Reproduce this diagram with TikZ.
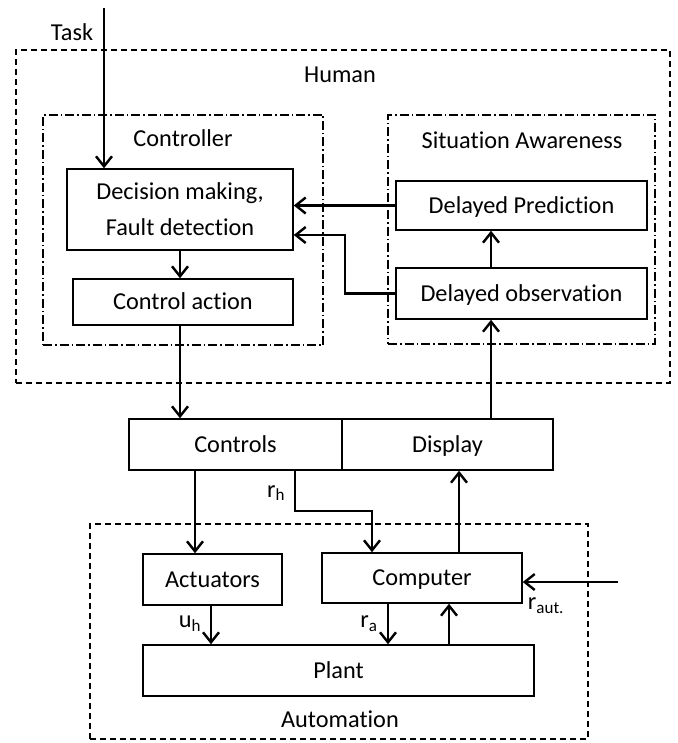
\documentclass[tikz,border=0pt]{standalone}
\usepackage{fontspec}
\setmainfont{Carlito}[Ligatures=NoCommon]
\usetikzlibrary{arrows.meta}
\begin{document}
\begin{tikzpicture}[x=1pt,y=-1pt,
  every node/.style={font=\fontsize{24.3}{36}\selectfont, inner sep=0pt},
  box/.style={draw, line width=1.6pt, align=center},
  one/.style={text height=17pt, text depth=1.5pt},
  outerdash/.style={draw, line width=1.5pt, dash pattern=on 6pt off 4pt},
  dashdot/.style={draw, line width=1.3pt, dash pattern=on 9pt off 3pt on 1.5pt off 3pt},
  arr/.style={line width=2.4pt, -{Straight Barb[length=10pt,width=16pt,line width=2.4pt]}},
  lbl/.style={font=\fontsize{24.3}{28}\selectfont},
  sub/.style={font=\fontsize{24.3}{28}\selectfont}]
\useasboundingbox (0,0) rectangle (677,743);
% containers
\node[outerdash, minimum width=654pt, minimum height=333pt] (human) at (343,216.5) {};
\node[dashdot, minimum width=280pt, minimum height=230pt] (ctrlr) at (183,230) {};
\node[dashdot, minimum width=267pt, minimum height=229pt] (sa) at (521.5,229.5) {};
\node[outerdash, minimum width=498pt, minimum height=215pt] (auto) at (339,631.5) {};
\node[lbl] (humanlbl) at (340,75) {Human};
\node[lbl] (ctrllbl) at (183,138) {Controller};
\node[lbl] (salbl) at (522,140) {Situation Awareness};
\node[lbl] (autolbl) at (340,719) {Automation};
\node[lbl] (tasklbl) at (72,32) {Task};
% boxes
\node[box, minimum width=226pt, minimum height=81pt] (dec) at (180,209.5) {Decision making,\\Fault detection};
\node[box, one, minimum width=220pt, minimum height=46pt] (ca) at (183,302) {Control action};
\node[box, one, minimum width=251pt, minimum height=49pt] (pred) at (521.5,205.5) {Delayed Prediction};
\node[box, one, minimum width=251pt, minimum height=51pt] (obs) at (521.5,293.5) {Delayed observation};
\node[box, one, minimum width=213pt, minimum height=51pt] (controls) at (235.5,444.5) {Controls};
\node[box, one, minimum width=211pt, minimum height=51pt] (display) at (447.5,444.5) {Display};
\node[box, one, minimum width=139pt, minimum height=51pt] (act) at (212.5,579.5) {Actuators};
\node[box, one, minimum width=200pt, minimum height=50pt] (comp) at (422,578) {Computer};
\node[box, one, minimum width=391pt, minimum height=51pt] (plant) at (338.5,670.5) {Plant};
% coordinates
\coordinate (taskin) at (104,8);
\coordinate (rautin) at (618,582);
\coordinate (ctlx) at (180,0);
\coordinate (obsx) at (491,0);
\coordinate (actx) at (195,0);
\coordinate (rhx) at (295,0);
\coordinate (rhy) at (0,511);
\coordinate (compx) at (372,0);
\coordinate (dispx) at (459,0);
\coordinate (uhx) at (211,0);
\coordinate (rax) at (388,0);
\coordinate (fbx) at (449,0);
\coordinate (bendx) at (345,0);
\coordinate (obsy) at (0,235);
% connectors
\draw[arr] (taskin) -- (taskin |- dec.north);
\draw[arr] (dec.south -| ctlx) -- (ca.north -| ctlx);
\draw[arr] (pred.west) -- (pred.west -| dec.east);
\draw[arr] (obs.west) -- (obs.west -| bendx) -- (bendx |- obsy) -- (obsy -| dec.east);
\draw[arr] (obs.north -| obsx) -- (pred.south -| obsx);
\draw[arr] (display.north -| obsx) -- (obs.south -| obsx);
\draw[arr] (ca.south -| ctlx) -- (controls.north -| ctlx);
\draw[arr] (controls.south -| actx) -- (act.north -| actx);
\draw[arr] (controls.south -| rhx) -- (rhx |- rhy) -- (compx |- rhy) -- (comp.north -| compx);
\draw[arr] (comp.north -| dispx) -- (display.south -| dispx);
\draw[arr] (rautin) -- (rautin -| comp.east);
\draw[arr] (act.south -| uhx) -- (plant.north -| uhx);
\draw[arr] (comp.south -| rax) -- (plant.north -| rax);
\draw[arr] (plant.north -| fbx) -- (comp.south -| fbx);
% signal labels
\node[sub] (rh) at (276,493) {r\textsubscript{h}};
\node[sub] (uh) at (190,624) {u\textsubscript{h}};
\node[sub] (ra) at (369,624) {r\textsubscript{a}};
\node[sub] (raut) at (546,606) {r\textsubscript{aut.}};
\end{tikzpicture}
\end{document}
